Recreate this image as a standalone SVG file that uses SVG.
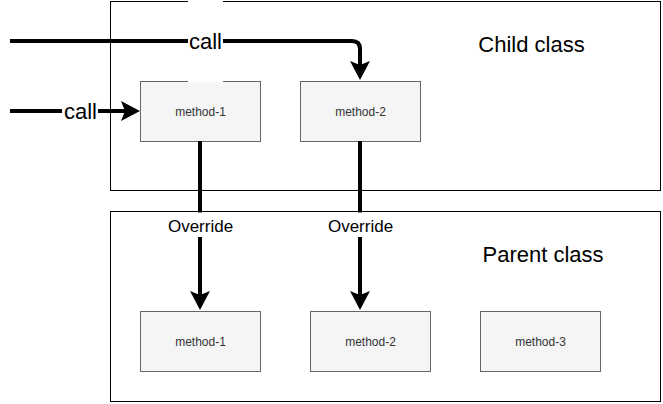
<svg xmlns="http://www.w3.org/2000/svg" width="663" height="404" viewBox="0 0 663 404">
<style>
.container{fill:#ffffff;stroke:#000000;stroke-width:1}
.method{fill:#f5f5f5;stroke:#666666;stroke-width:1}
.mtext{font-family:"Liberation Sans",Arial,sans-serif;font-size:12px;fill:#333333;text-anchor:middle}
.title{font-family:"Liberation Sans",Arial,sans-serif;font-size:22px;fill:#000000;text-anchor:middle}
.edge{fill:none;stroke:#000000;stroke-width:4}
.elabel{font-family:"Liberation Sans",Arial,sans-serif;fill:#000000;text-anchor:middle}
.lbg{fill:#ffffff;stroke:none}
</style>
<defs>
<marker id="arrow" markerUnits="userSpaceOnUse" viewBox="0 0 19 20" markerWidth="19" markerHeight="20" refX="4" refY="10" orient="auto">
<path d="M0,0 L19,10 L0,20 L4,10 Z" fill="#000000"/>
</marker>
</defs>
<rect width="663" height="404" fill="#ffffff"/>
<g id="child-class">
<rect class="container" x="110.5" y="1.5" width="550" height="189"/>
<text class="title" x="531.5" y="51.5">Child class</text>
</g>
<g id="parent-class">
<rect class="container" x="110.5" y="211.5" width="550" height="190"/>
<text class="title" x="543" y="261.5">Parent class</text>
</g>
<g id="child-method-1">
<rect class="method" x="140.5" y="81.5" width="120" height="60"/>
<text class="mtext" x="200.5" y="115.5">method-1</text>
</g>
<g id="child-method-2">
<rect class="method" x="300.5" y="81.5" width="120" height="60"/>
<text class="mtext" x="360.5" y="115.5">method-2</text>
</g>
<g id="parent-method-1">
<rect class="method" x="140.5" y="311.5" width="120" height="60"/>
<text class="mtext" x="200.5" y="345.5">method-1</text>
</g>
<g id="parent-method-2">
<rect class="method" x="310.5" y="311.5" width="120" height="60"/>
<text class="mtext" x="370.5" y="345.5">method-2</text>
</g>
<g id="parent-method-3">
<rect class="method" x="480.5" y="311.5" width="120" height="60"/>
<text class="mtext" x="540.5" y="345.5">method-3</text>
</g>
<g id="connectors">
<path class="edge" d="M10,41 H352 Q360,41 360,49 V65" marker-end="url(#arrow)"/>
<rect class="lbg" x="188" y="0" width="35" height="82.5"/>
<text class="elabel" x="205.5" y="48.5" font-size="22">call</text>
<path class="edge" d="M10,111 H125" marker-end="url(#arrow)"/>
<rect class="lbg" x="62" y="99" width="36" height="24"/>
<text class="elabel" x="80.5" y="119" font-size="22">call</text>
<path class="edge" d="M200,141 V295" marker-end="url(#arrow)"/>
<rect class="lbg" x="167" y="212.5" width="67" height="24.5"/>
<text class="elabel" x="200.5" y="232" font-size="17">Override</text>
<path class="edge" d="M360,141 V295" marker-end="url(#arrow)"/>
<rect class="lbg" x="327" y="212.5" width="67" height="24.5"/>
<text class="elabel" x="360.5" y="232" font-size="17">Override</text>
</g>
</svg>
